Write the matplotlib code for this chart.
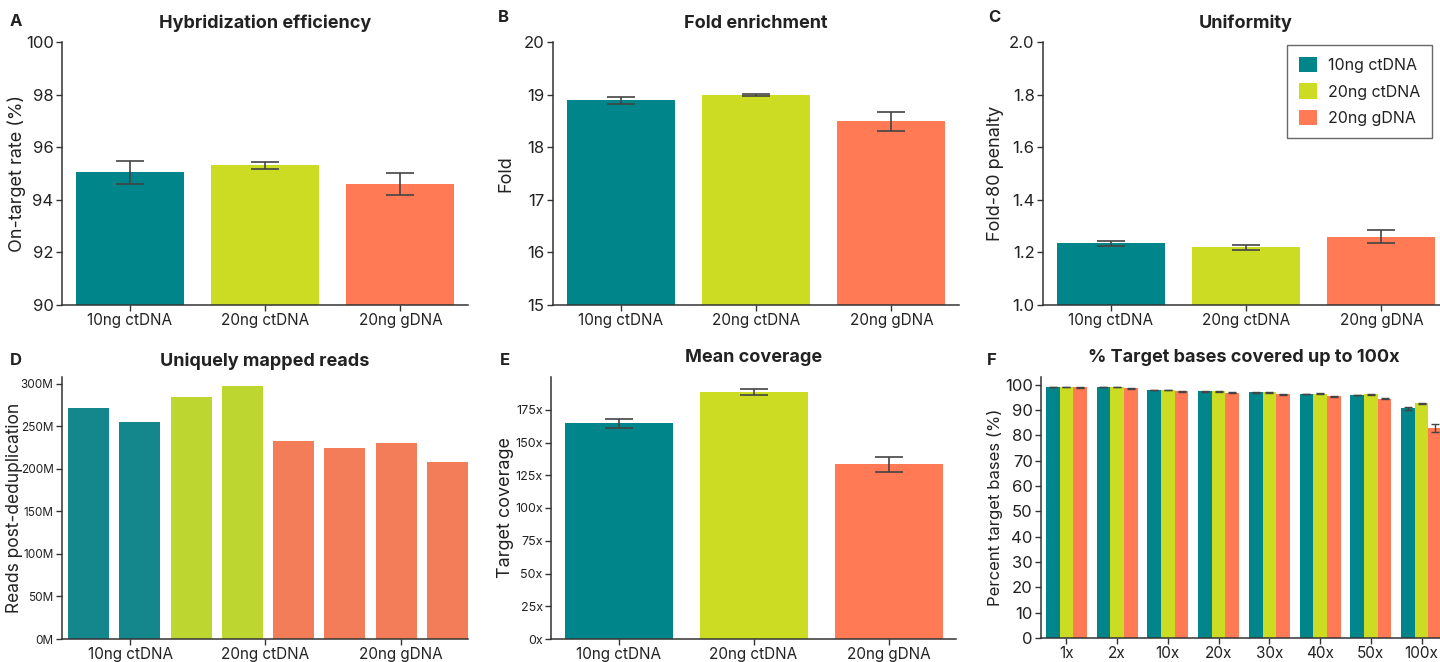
import matplotlib
matplotlib.use("Agg")
import matplotlib.pyplot as plt
from matplotlib.patches import Patch
from matplotlib.ticker import FuncFormatter
import numpy as np

plt.rcParams['font.family'] = ['Inter', 'DejaVu Sans']

# ---------------- data ----------------
groups = ["10ng ctDNA", "20ng ctDNA", "20ng gDNA"]
colors = ["#00858A", "#CBDC22", "#FF7A55"]
colors_d = ["#13878C", "#BED730", "#F37D58"]

hyb_mean = [95.04, 95.31, 94.59]
hyb_err = [0.43, 0.12, 0.42]

fold_mean = [18.89, 18.99, 18.49]
fold_err = [0.06, 0.02, 0.18]

unif_mean = [1.234, 1.219, 1.260]
unif_err = [0.008, 0.010, 0.026]

reads_samples = ["10ng ctDNA", "10ng ctDNA", "20ng ctDNA", "20ng ctDNA",
                 "20ng gDNA", "20ng gDNA", "20ng gDNA", "20ng gDNA"]
reads_m = [271, 255.5, 285, 298, 233, 225, 230, 207.5]

cov_mean = [164.6, 188.2, 133.3]
cov_err = [3.4, 2.3, 5.8]

depth_labels = ["1x", "2x", "10x", "20x", "30x", "40x", "50x", "100x"]
pct_10ct = [99.1, 99.1, 97.9, 97.4, 97.0, 96.3, 95.9, 90.7]
pct_20ct = [99.0, 99.0, 97.9, 97.4, 97.0, 96.4, 96.1, 92.6]
pct_20g = [98.9, 98.6, 97.4, 96.8, 96.2, 95.4, 94.5, 82.8]
err_10ct = [0.1, 0.1, 0.15, 0.15, 0.15, 0.15, 0.15, 0.6]
err_20ct = [0.1, 0.1, 0.15, 0.15, 0.15, 0.15, 0.15, 0.3]
err_20g = [0.1, 0.15, 0.15, 0.15, 0.15, 0.2, 0.2, 1.5]

# ---------------- layout ----------------
W, H = 1440, 662
fig = plt.figure(figsize=(W / 100, H / 100), dpi=100)
fig.patch.set_facecolor("white")

SP = "#333333"
TXT = "#222222"
ERRC = "#444444"


def add_ax(left, top, width, bottom):
    return fig.add_axes([left / W, 1 - bottom / H, width / W, (bottom - top) / H])


def style(ax, tick_size):
    for s in ["top", "right"]:
        ax.spines[s].set_visible(False)
    for s in ["left", "bottom"]:
        ax.spines[s].set_color(SP)
        ax.spines[s].set_linewidth(1.1)
    ax.tick_params(axis="both", colors=SP, labelcolor=TXT, length=4, width=1.0,
                   labelsize=tick_size, pad=2)


def ylab(ax, text, xc_px, size):
    ax.set_ylabel(text, fontsize=size, color=TXT)
    pos = ax.get_position()
    left = pos.x0 * W
    width = pos.width * W
    ax.yaxis.set_label_coords((xc_px - left) / width, 0.5)
    ax.yaxis.label.set_va("center")


def bar3(ax, means, errs, capsize=10):
    x = np.arange(len(means))
    ax.bar(x, means, width=0.8, color=colors, zorder=2)
    ax.errorbar(x, means, yerr=errs, fmt="none", ecolor=ERRC, elinewidth=1.2,
                capsize=capsize, capthick=1.2, zorder=3)
    ax.set_xlim(-0.5, 2.5)
    ax.set_xticks(x)
    ax.set_xticklabels(groups)


def letter(x, y, t):
    fig.text(x / W, 1 - y / H, t, fontsize=12, fontweight="bold", color=TXT,
             ha="left", va="center")


def title(ax, t, y):
    fig.text((ax.get_position().x0 + ax.get_position().x1) / 2, 1 - y / H, t,
             fontsize=13, fontweight="bold", color=TXT, ha="center", va="center")


# A
axA = add_ax(62, 42, 406, 305)
bar3(axA, hyb_mean, hyb_err)
axA.set_ylim(90, 100)
axA.set_yticks(np.arange(90, 101, 2))
ylab(axA, "On-target rate (%)", 17, 13)
style(axA, 12)
axA.tick_params(axis="x", labelsize=11)

# B
axB = add_ax(553, 42, 406, 305)
bar3(axB, fold_mean, fold_err)
axB.set_ylim(15, 20)
axB.set_yticks(np.arange(15, 21, 1))
ylab(axB, "Fold", 506, 13)
style(axB, 12)
axB.tick_params(axis="x", labelsize=11)

# C
axC = add_ax(1043, 42, 406, 305)
bar3(axC, unif_mean, unif_err)
axC.set_ylim(1.0, 2.0)
axC.set_yticks(np.arange(1.0, 2.01, 0.2))
axC.yaxis.set_major_formatter(FuncFormatter(lambda v, p: f"{v:.1f}"))
ylab(axC, "Fold-80 penalty", 996, 13)
style(axC, 12)
axC.tick_params(axis="x", labelsize=11)
handles = [Patch(facecolor=c, edgecolor="none") for c in colors]
leg = fig.legend(handles, groups, loc="upper right",
                 bbox_to_anchor=(1432 / W, 1 - 45 / H), bbox_transform=fig.transFigure,
                 borderaxespad=0, fontsize=11.5, frameon=True, fancybox=False,
                 handlelength=1.1, handleheight=1.1, handletextpad=0.7,
                 borderpad=0.75, labelspacing=0.65, labelcolor=TXT)
leg.get_frame().set_edgecolor("#444444")
leg.get_frame().set_linewidth(1.0)

# D
axD = add_ax(62, 377, 406, 639)
xd = np.arange(len(reads_m))
cmap = {g: c for g, c in zip(groups, colors_d)}
axD.bar(xd, reads_m, width=0.8, color=[cmap[s] for s in reads_samples], zorder=2)
axD.set_xlim(-0.517, 7.4)
axD.set_xticks([0.81, 3.44, 6.09])
axD.set_xticklabels(groups)
axD.set_ylim(0, 308)
axD.set_yticks(np.arange(0, 301, 50))
axD.yaxis.set_major_formatter(FuncFormatter(lambda v, p: f"{int(v)}M"))
ylab(axD, "Reads post-deduplication", 15, 12.5)
style(axD, 8.5)
axD.tick_params(axis="x", labelsize=11)

# E
axE = add_ax(551, 377, 405, 639)
bar3(axE, cov_mean, cov_err)
axE.set_ylim(0, 200)
axE.set_yticks(np.arange(0, 176, 25))
axE.yaxis.set_major_formatter(FuncFormatter(lambda v, p: f"{int(v)}x"))
ylab(axE, "Target coverage", 505, 13)
style(axE, 9)
axE.tick_params(axis="x", labelsize=11)

# F
axF = add_ax(1041, 377, 406, 638)
xf = np.arange(len(depth_labels))
bw = 0.27
for off, vals, errs, c in [(-bw, pct_10ct, err_10ct, colors[0]),
                           (0, pct_20ct, err_20ct, colors[1]),
                           (bw, pct_20g, err_20g, colors[2])]:
    axF.bar(xf + off, vals, width=bw, color=c, zorder=2)
    axF.errorbar(xf + off, vals, yerr=errs, fmt="none", ecolor=ERRC, elinewidth=1.0,
                 capsize=3, capthick=1.0, zorder=3)
axF.set_xlim(-0.5, 7.5)
axF.set_xticks(xf)
axF.set_xticklabels(depth_labels)
axF.set_ylim(0, 103)
axF.set_yticks(np.arange(0, 101, 10))
ylab(axF, "Percent target bases (%)", 995, 12)
style(axF, 12)
axF.tick_params(axis="x", labelsize=11)

# titles & letters
title(axA, "Hybridization efficiency", 23)
title(axB, "Fold enrichment", 23)
title(axC, "Uniformity", 23)
title(axD, "Uniquely mapped reads", 361)
title(axE, "Mean coverage", 357)
title(axF, "% Target bases covered up to 100x", 357)
letter(10, 22, "A")
letter(498, 18, "B")
letter(988, 18, "C")
letter(10, 361, "D")
letter(500, 361, "E")
letter(987, 361, "F")

fig.savefig("out.png", dpi=100, facecolor="white")
